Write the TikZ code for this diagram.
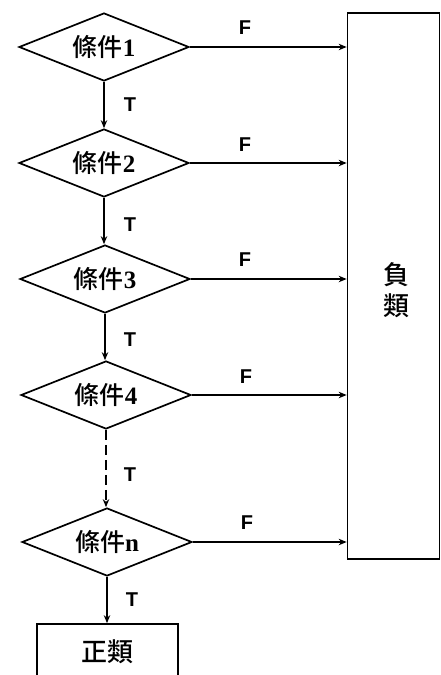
\documentclass[tikz,border=0pt]{standalone}
\usepackage{fontspec}
\newfontfamily\cjk{Noto Sans CJK TC}[UprightFont=* Medium]
\newfontfamily\dig{Liberation Serif}
\newfontfamily\lab{Liberation Sans}
\usetikzlibrary{shapes.geometric,arrows.meta}
\newcommand\condtxt[1]{{\cjk 條件}{\dig\bfseries #1}}
\tikzset{
  cond/.style={draw,diamond,line width=1.7pt,inner sep=0pt,aspect=2.5,
    minimum width=170pt,minimum height=68pt,font=\fontsize{25}{27}\selectfont},
  cls/.style={draw,rectangle,line width=1.7pt,inner sep=0pt,font=\fontsize{26}{28}\selectfont\cjk},
  conn/.style={line width=1.7pt,-{Stealth[length=8pt,width=6.5pt]}},
  lbl/.style={inner sep=0pt}
}
\newcommand\lbltxt[1]{\fontsize{20}{22}\selectfont\lab\bfseries #1}
\begin{document}
\begin{tikzpicture}[x=1pt,y=-1pt]
\useasboundingbox (0,0) rectangle (441,675);
\node[cond] (c1) at (104,47) {\condtxt{1}};
\node[cond] (c2) at (104,163) {\condtxt{2}};
\node[cond] (c3) at (105,279) {\condtxt{3}};
\node[cond] (c4) at (106,395) {\condtxt{4}};
\node[cond] (cn) at (107,542) {\condtxt{n}};
\node[cls,minimum width=141pt,minimum height=56pt] (pos) at (107.5,652) {正類};
\node[cls,minimum width=92pt,minimum height=546pt] (neg) at (393.5,286) {};
\node[font=\fontsize{26}{28}\selectfont\cjk,inner sep=0pt] (negtxt) at (396,290) {\shortstack{負\\[4pt]類}};
\draw[conn] (c1.south) -- (c1.south |- c2.north);
\draw[conn] (c2.south) -- (c2.south |- c3.north);
\draw[conn] (c3.south) -- (c3.south |- c4.north);
\draw[conn,dash pattern=on 10pt off 5pt] (c4.south) -- (c4.south |- cn.north);
\draw[conn] (cn.south) -- (cn.south |- pos.north);
\draw[conn] (c1.east) -- (c1.east -| neg.west);
\draw[conn] (c2.east) -- (c2.east -| neg.west);
\draw[conn] (c3.east) -- (c3.east -| neg.west);
\draw[conn] (c4.east) -- (c4.east -| neg.west);
\draw[conn] (cn.east) -- (cn.east -| neg.west);
\node[lbl] (f1) at (245,28) {\lbltxt{F}};
\node[lbl] (f2) at (245,145) {\lbltxt{F}};
\node[lbl] (f3) at (245,260) {\lbltxt{F}};
\node[lbl] (f4) at (246,377) {\lbltxt{F}};
\node[lbl] (fn) at (247,523) {\lbltxt{F}};
\node[lbl] (t1) at (130,105) {\lbltxt{T}};
\node[lbl] (t2) at (130,225) {\lbltxt{T}};
\node[lbl] (t3) at (130,340) {\lbltxt{T}};
\node[lbl] (t4) at (130,475) {\lbltxt{T}};
\node[lbl] (tn) at (132,600) {\lbltxt{T}};
\end{tikzpicture}
\end{document}
